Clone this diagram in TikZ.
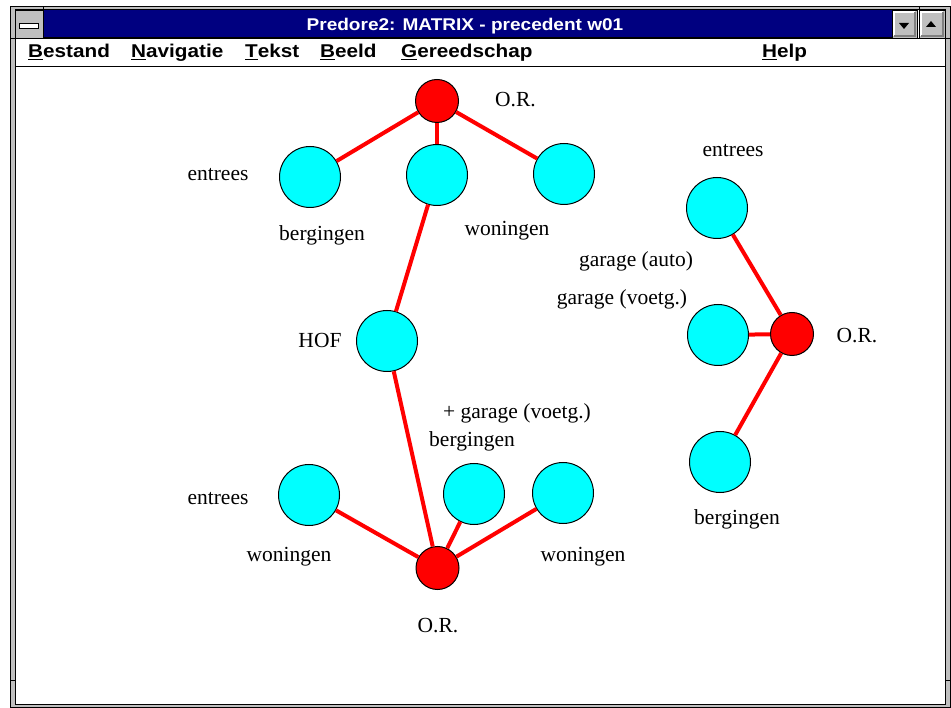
\documentclass[tikz,border=0pt]{standalone}
\usepackage{fontspec}
\setmainfont{Liberation Serif}
\newfontfamily\winfont[FakeStretch=1.12]{Liberation Sans}
\definecolor{RoomClr}{rgb}{0,1,1}
\definecolor{OrClr}{rgb}{1,0,0}
\definecolor{BarClr}{rgb}{0,0,0.5}
\definecolor{FrameClr}{rgb}{0.75,0.75,0.75}
\definecolor{ShadeClr}{rgb}{0.5,0.5,0.5}

\begin{document}
\begin{tikzpicture}[x=1pt,y=-1pt,
  room/.style={circle,draw=black,line width=1pt,fill=RoomClr,minimum size=61pt,inner sep=0pt},
  orpt/.style={circle,draw=black,line width=1pt,fill=OrClr,minimum size=43pt,inner sep=0pt},
  link/.style={draw=OrClr,line width=4pt},
  lbl/.style={anchor=base,inner sep=0pt,font=\fontsize{21.5}{24}\selectfont},
  menu/.style={anchor=base west,inner sep=0pt,font=\winfont\bfseries\fontsize{18.5}{22}\selectfont},
  btn/.style={draw=black,fill=FrameClr,line width=.8pt}]

\useasboundingbox (0,0) rectangle (951,708);

% window frame
\draw[fill=FrameClr,line width=1pt] (10,7) rectangle (950,707);
\draw[fill=white,line width=1pt] (15,10) rectangle (945,704);
\draw[fill=BarClr,line width=1pt] (43,10) rectangle (892,38);
\draw[btn] (15,10) rectangle (43,38);
\draw[fill=white,line width=.8pt] (19,23) rectangle (38,28);
\draw[btn] (892,10) rectangle (917,38);
\draw[btn] (919,10) rectangle (945,38);
\draw[white,line width=1.5pt] (894,36) -- (894,12) -- (915,12);
\draw[ShadeClr,line width=1.5pt] (894,36) -- (915,36) -- (915,12);
\draw[white,line width=1.5pt] (921,36) -- (921,12) -- (943,12);
\draw[ShadeClr,line width=1.5pt] (921,36) -- (943,36) -- (943,12);
\fill (899,23) -- (909,23) -- (904,29) -- cycle;
\fill (926,27) -- (936,27) -- (931,21) -- cycle;
\draw[line width=1pt] (10,39) -- (950,39);
\draw[line width=1pt] (15,67) -- (945,67);
\draw[line width=1pt] (10,680) -- (15,680);
\draw[line width=1pt] (945,680) -- (950,680);
\draw[line width=1pt] (43,7) -- (43,10);
\draw[line width=1pt] (919,7) -- (919,10);

\node[anchor=base,inner sep=0pt,text=white,font=\winfont\bfseries\fontsize{17}{20}\selectfont] (title) at (465,31) {Predore2: MATRIX - precedent w01};
\node[menu] (mBestand) at (28,58) {\underline{B}estand};
\node[menu] (mNavigatie) at (131,58) {\underline{N}avigatie};
\node[menu] (mTekst) at (245,58) {\underline{T}ekst};
\node[menu] (mBeeld) at (320,58) {\underline{B}eeld};
\node[menu] (mGereedschap) at (401,58) {\underline{G}ereedschap};
\node[menu] (mHelp) at (762,58) {\underline{H}elp};

% top group
\node[orpt] (orTop) at (437,101) {};
\node[room] (t1) at (310,177) {};
\node[room] (t2) at (437,175) {};
\node[room] (t3) at (564,174) {};
\node[room] (hof) at (387,341) {};

% bottom group
\node[orpt] (orBot) at (437.5,568) {};
\node[room] (b1) at (309,495) {};
\node[room] (b2) at (474,494) {};
\node[room] (b3) at (563,493) {};

% right group
\node[orpt] (orRight) at (792,334) {};
\node[room] (r1) at (717,208) {};
\node[room] (r2) at (718,335) {};
\node[room] (r3) at (720,462) {};

\draw[link] (orTop) -- (t1);
\draw[link] (orTop) -- (t2);
\draw[link] (orTop) -- (t3);
\draw[link] (t2) -- (hof);
\draw[link] (hof) -- (orBot);
\draw[link] (orBot) -- (b1);
\draw[link] (orBot) -- (b2);
\draw[link] (orBot) -- (b3);
\draw[link] (orRight) -- (r1);
\draw[link] (orRight) -- (r2);
\draw[link] (orRight) -- (r3);

\node[lbl] (lOrTop) at (515.5,107) {O.R.};
\node[lbl] (lEntT) at (218,181) {entrees};
\node[lbl] (lBergT) at (322,240.5) {bergingen};
\node[lbl] (lWonT) at (507,236) {woningen};
\node[lbl] (lHof) at (320,348) {HOF};

\node[lbl] (lEntR) at (733,157) {entrees};
\node[lbl] (lGarA) at (636,267) {garage (auto)};
\node[lbl] (lGarV) at (622,305) {garage (voetg.)};
\node[lbl] (lOrRight) at (857,343) {O.R.};
\node[lbl] (lBergR) at (737,524) {bergingen};

\node[lbl] (lGarB) at (517,419) {+ garage (voetg.)};
\node[lbl] (lBergB) at (472,447) {bergingen};
\node[lbl] (lEntB) at (218,504) {entrees};
\node[lbl] (lWonB1) at (289,561) {woningen};
\node[lbl] (lWonB2) at (583,561) {woningen};
\node[lbl] (lOrBot) at (438,632) {O.R.};

\end{tikzpicture}
\end{document}
